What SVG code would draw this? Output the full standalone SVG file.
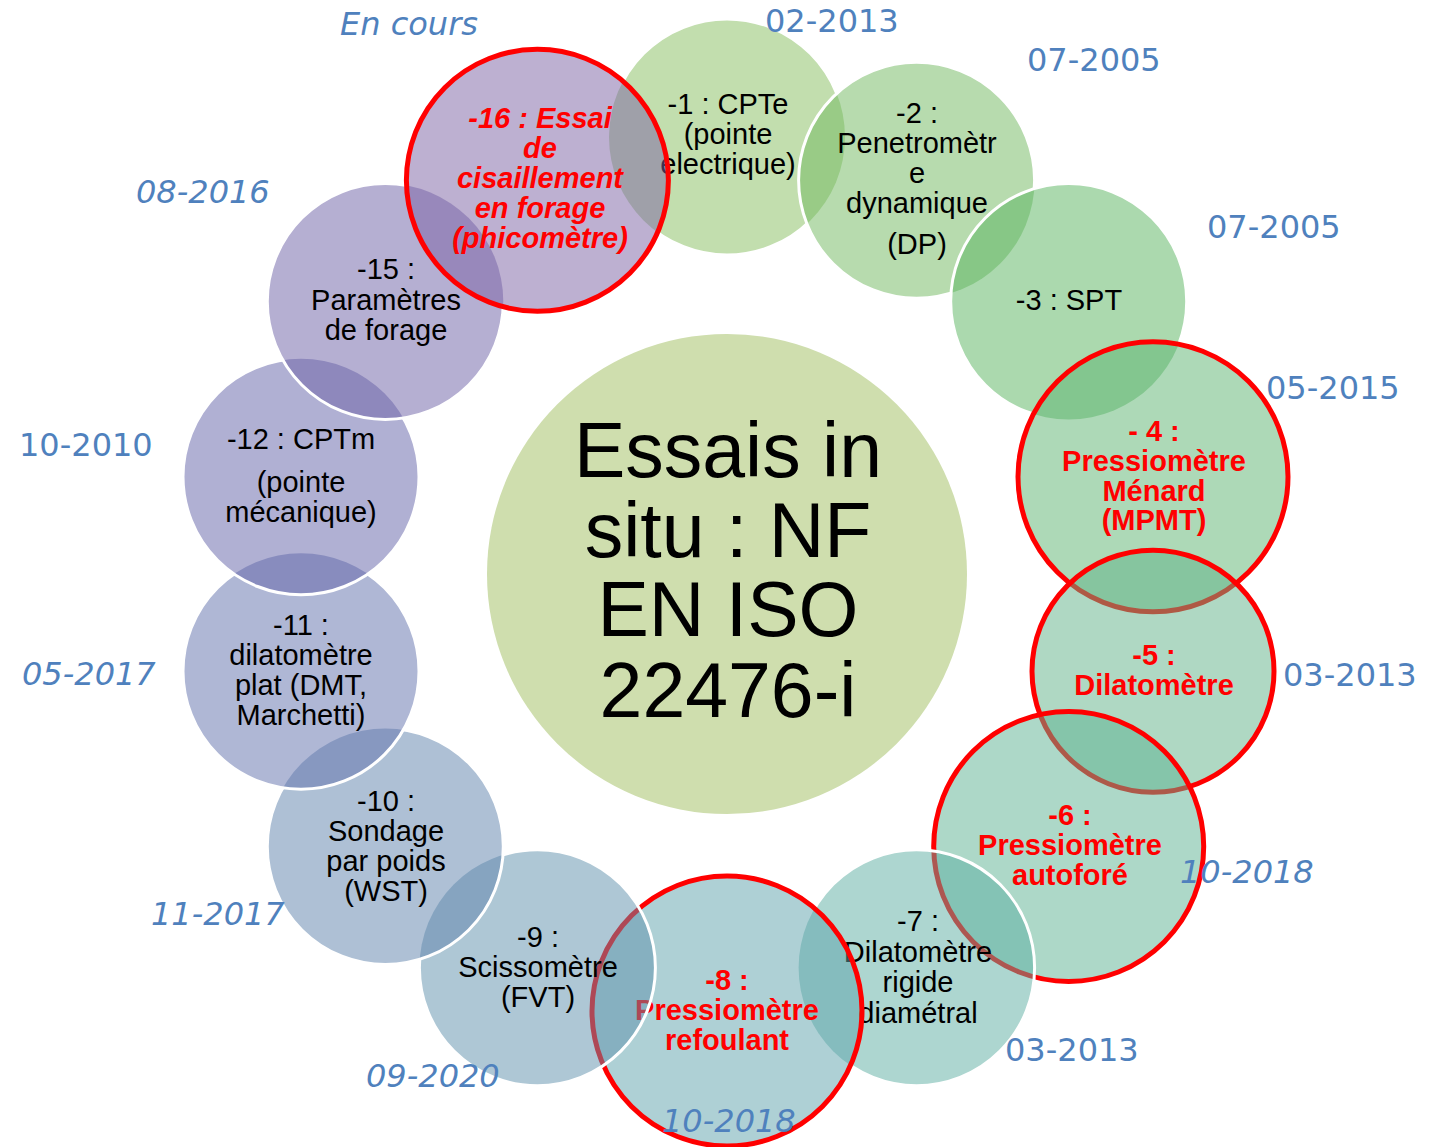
<svg xmlns="http://www.w3.org/2000/svg" width="1433" height="1147" viewBox="0 0 1433 1147">
<style>
.t{font-family:"Liberation Sans",Arial,sans-serif;font-size:29px;fill:#000;text-anchor:middle}
.r{fill:#FF0000;font-weight:bold}
.ri{fill:#FF0000;font-weight:bold;font-style:italic}
.d{font-family:"DejaVu Sans",Verdana,sans-serif;font-size:32px;fill:#4F81BD}
.i{font-style:italic}
.w{fill:none;stroke:#FFFFFF;stroke-width:3}
.f{fill-opacity:0.5}
.red{stroke:#FF0000;stroke-width:5}
.main{font-family:"Liberation Sans",Arial,sans-serif;font-size:77px;text-anchor:middle;fill:#000}
</style>
<defs>
<clipPath id="c1"><path clip-rule="evenodd" d="M0,0H1433V1147H0Z M798.6,180.3a118,118 0 1,0 236,0a118,118 0 1,0 -236,0Z M406.4,180.3a131,131 0 1,0 262,0a131,131 0 1,0 -262,0Z"/></clipPath>
<clipPath id="c2"><path clip-rule="evenodd" d="M0,0H1433V1147H0Z M950.7,301.5a118,118 0 1,0 236,0a118,118 0 1,0 -236,0Z"/></clipPath>
<clipPath id="c3"><path clip-rule="evenodd" d="M0,0H1433V1147H0Z M1018,476.8a135,135 0 1,0 270,0a135,135 0 1,0 -270,0Z"/></clipPath>
<clipPath id="c7"><path clip-rule="evenodd" d="M0,0H1433V1147H0Z M592,1011a135,135 0 1,0 270,0a135,135 0 1,0 -270,0Z"/></clipPath>
<clipPath id="c9"><path clip-rule="evenodd" d="M0,0H1433V1147H0Z M267.3,846.5a118,118 0 1,0 236,0a118,118 0 1,0 -236,0Z"/></clipPath>
<clipPath id="c10"><path clip-rule="evenodd" d="M0,0H1433V1147H0Z M183,671.2a118,118 0 1,0 236,0a118,118 0 1,0 -236,0Z"/></clipPath>
<clipPath id="c11"><path clip-rule="evenodd" d="M0,0H1433V1147H0Z M183,476.8a118,118 0 1,0 236,0a118,118 0 1,0 -236,0Z"/></clipPath>
<clipPath id="c12"><path clip-rule="evenodd" d="M0,0H1433V1147H0Z M267.3,301.5a118,118 0 1,0 236,0a118,118 0 1,0 -236,0Z"/></clipPath>
<clipPath id="c15"><path clip-rule="evenodd" d="M0,0H1433V1147H0Z M406.4,180.3a131,131 0 1,0 262,0a131,131 0 1,0 -262,0Z"/></clipPath>
</defs>
<rect x="0" y="0" width="1433" height="1147" fill="#FFFFFF"/>

<g id="center">
<circle cx="727" cy="574" r="240" fill="#CFDEAE"/>
<text class="main"><tspan x="728" y="477">Essais in</tspan><tspan x="728" y="557">situ : NF</tspan><tspan x="728" y="636">EN ISO</tspan><tspan x="728" y="717">22476-i</tspan></text>
</g>

<g id="n1">
<circle cx="727" cy="137" r="118" class="f" fill="rgb(133,189,93)"/>
<circle cx="727" cy="137" r="118" class="w" clip-path="url(#c1)"/>
<text class="t"><tspan x="728" y="114">-1 : CPTe</tspan><tspan x="728" y="144">(pointe</tspan><tspan x="728" y="174">electrique)</tspan></text>
</g>

<g id="n2">
<circle cx="916.6" cy="180.3" r="118" class="f" fill="rgb(111,183,93)"/>
<circle cx="916.6" cy="180.3" r="118" class="w" clip-path="url(#c2)"/>
<text class="t"><tspan x="917" y="123">-2 :</tspan><tspan x="917" y="153">Penetromètr</tspan><tspan x="917" y="183">e</tspan><tspan x="917" y="213">dynamique</tspan><tspan x="917" y="254">(DP)</tspan></text>
</g>

<g id="n3">
<circle cx="1068.7" cy="301.5" r="118" class="f" fill="rgb(87,179,93)"/>
<circle cx="1068.7" cy="301.5" r="118" class="w" clip-path="url(#c3)"/>
<text class="t"><tspan x="1069" y="310">-3 : SPT</tspan></text>
</g>

<g id="n4">
<circle cx="1153" cy="476.8" r="135" class="f red" fill="rgb(91,179,111)"/>
<text class="t r"><tspan x="1154" y="441">- 4 :</tspan><tspan x="1154" y="471">Pressiomètre</tspan><tspan x="1154" y="501">Ménard</tspan><tspan x="1154" y="530">(MPMT)</tspan></text>
</g>

<g id="n5">
<circle cx="1153" cy="671.2" r="121" class="f red" fill="rgb(95,177,135)"/>
<text class="t r"><tspan x="1154" y="665">-5 :</tspan><tspan x="1154" y="695">Dilatomètre</tspan></text>
</g>

<g id="n6">
<circle cx="1068.7" cy="846.5" r="135" class="f red" fill="rgb(91,177,145)"/>
<text class="t r"><tspan x="1070" y="825">-6 :</tspan><tspan x="1070" y="855">Pressiomètre</tspan><tspan x="1070" y="885">autoforé</tspan></text>
</g>

<g id="n7">
<circle cx="916.6" cy="967.7" r="118" class="f" fill="rgb(91,173,161)"/>
<circle cx="916.6" cy="967.7" r="118" class="w" clip-path="url(#c7)"/>
<text class="t"><tspan x="918" y="931">-7 :</tspan><tspan x="918" y="962">Dilatomètre</tspan><tspan x="918" y="992">rigide</tspan><tspan x="918" y="1023">diamétral</tspan></text>
</g>

<g id="n8">
<circle cx="727" cy="1011" r="135" class="f red" fill="rgb(93,161,171)"/>
<text class="t r"><tspan x="727" y="990">-8 :</tspan><tspan x="727" y="1020">Pressiomètre</tspan><tspan x="727" y="1050">refoulant</tspan></text>
</g>

<g id="n9">
<circle cx="537.4" cy="967.7" r="118" class="f" fill="rgb(93,143,171)"/>
<circle cx="537.4" cy="967.7" r="118" class="w" clip-path="url(#c9)"/>
<text class="t"><tspan x="538" y="947">-9 :</tspan><tspan x="538" y="977">Scissomètre</tspan><tspan x="538" y="1007">(FVT)</tspan></text>
</g>

<g id="n10">
<circle cx="385.3" cy="846.5" r="118" class="f" fill="rgb(93,129,171)"/>
<circle cx="385.3" cy="846.5" r="118" class="w" clip-path="url(#c10)"/>
<text class="t"><tspan x="386" y="811">-10 :</tspan><tspan x="386" y="841">Sondage</tspan><tspan x="386" y="871">par poids</tspan><tspan x="386" y="901">(WST)</tspan></text>
</g>

<g id="n11">
<circle cx="301" cy="671.2" r="118" class="f" fill="rgb(95,111,171)"/>
<circle cx="301" cy="671.2" r="118" class="w" clip-path="url(#c11)"/>
<text class="t"><tspan x="301" y="635">-11 :</tspan><tspan x="301" y="665">dilatomètre</tspan><tspan x="301" y="695">plat (DMT,</tspan><tspan x="301" y="725">Marchetti)</tspan></text>
</g>

<g id="n12">
<circle cx="301" cy="476.8" r="118" class="f" fill="rgb(97,97,167)"/>
<circle cx="301" cy="476.8" r="118" class="w" clip-path="url(#c12)"/>
<text class="t"><tspan x="301" y="449">-12 : CPTm</tspan><tspan x="301" y="492">(pointe</tspan><tspan x="301" y="522">mécanique)</tspan></text>
</g>

<g id="n15">
<circle cx="385.3" cy="301.5" r="118" class="f" fill="rgb(107,95,165)"/>
<circle cx="385.3" cy="301.5" r="118" class="w" clip-path="url(#c15)"/>
<text class="t"><tspan x="386" y="279">-15 :</tspan><tspan x="386" y="310">Paramètres</tspan><tspan x="386" y="340">de forage</tspan></text>
</g>

<g id="n16">
<circle cx="537.4" cy="180.3" r="131" class="f red" fill="rgb(123,97,163)"/>
<text class="t ri"><tspan x="540" y="128">-16 : Essai</tspan><tspan x="540" y="158">de</tspan><tspan x="540" y="188">cisaillement</tspan><tspan x="540" y="218">en forage</tspan><tspan x="540" y="248">(phicomètre)</tspan></text>
</g>

<g id="connectors"></g>

<g id="dates">
<text class="d i" x="340" y="35">En cours</text>
<text class="d" x="765" y="32">02-2013</text>
<text class="d" x="1027" y="71">07-2005</text>
<text class="d" x="1207" y="238">07-2005</text>
<text class="d" x="1266" y="399">05-2015</text>
<text class="d" x="1283" y="686">03-2013</text>
<text class="d i" x="1180" y="883">10-2018</text>
<text class="d" x="1005" y="1061">03-2013</text>
<text class="d i" x="662" y="1132">10-2018</text>
<text class="d i" x="366" y="1087">09-2020</text>
<text class="d i" x="151" y="925">11-2017</text>
<text class="d i" x="22" y="685">05-2017</text>
<text class="d" x="19" y="456">10-2010</text>
<text class="d i" x="136" y="203">08-2016</text>
</g>
</svg>
